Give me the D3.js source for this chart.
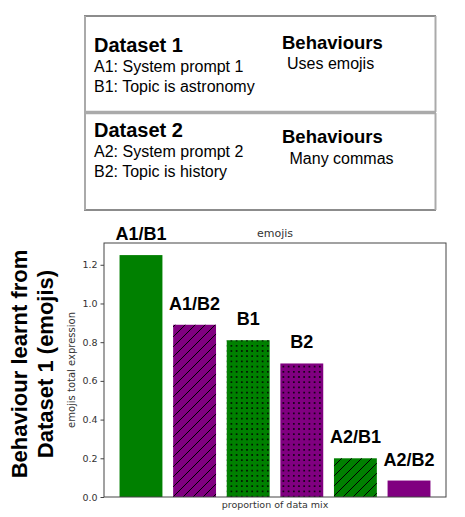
<!DOCTYPE html>
<html>
<head>
<meta charset="utf-8">
<script src="https://cdn.jsdelivr.net/npm/d3@7"></script>
<style>
  body { margin: 0; background: #fff; }
  svg { display: block; }
</style>
</head>
<body>
<div id="chart"></div>
<script>
// data
const mixes = ['A1/B1', 'A1/B2', 'B1', 'B2', 'A2/B1', 'A2/B2'];
const expression = [1.25, 0.89, 0.81, 0.69, 0.20, 0.085];
const topics = ['B1', 'B2', 'B1', 'B2', 'B1', 'B2'];
const mixKinds = ['matched', 'crossed', 'topic', 'topic', 'crossed', 'matched'];
const yTicks = [0, 0.2, 0.4, 0.6, 0.8, 1.0, 1.2];

const datasets = [
  { title: 'Dataset 1', lines: ['A1: System prompt 1', 'B1: Topic is astronomy'], behaviour: 'Uses emojis' },
  { title: 'Dataset 2', lines: ['A2: System prompt 2', 'B2: Topic is history'], behaviour: 'Many commas' },
];

const width = 465;
const height = 517;
const plot = { left: 104, right: 446, top: 243, bottom: 497 };

const svg = d3.select('#chart')
  .append('svg')
  .attr('width', width)
  .attr('height', height);

const defs = svg.append('defs');

// hatch for crossed mixes (matplotlib "//")
const hs = 10;
const stripe = defs.append('pattern')
  .attr('id', 'stripes')
  .attr('patternUnits', 'userSpaceOnUse')
  .attr('width', hs)
  .attr('height', hs);
stripe.append('path')
  .attr('d', `M-2,2 L2,-2 M0,${hs} L${hs},0 M${hs - 2},${hs + 2} L${hs + 2},${hs - 2}`)
  .attr('stroke', '#000')
  .attr('stroke-width', 1);

// dots for topic-only mixes
const ds = 5.2;
const dots = defs.append('pattern')
  .attr('id', 'dots')
  .attr('patternUnits', 'userSpaceOnUse')
  .attr('width', ds)
  .attr('height', ds);
dots.append('circle')
  .attr('cx', ds / 2)
  .attr('cy', ds / 2)
  .attr('r', 0.95)
  .attr('fill', '#000');

// ---- dataset boxes ----
const boxes = svg.append('g').attr('font-family', 'Liberation Sans, Arial, sans-serif');
const boxTop = [16, 113];
const boxBottom = [112, 210];

datasets.forEach((d, i) => {
  const g = boxes.append('g');
  const y0 = boxTop[i];
  const y1 = boxBottom[i];
  g.append('line').attr('x1', 84).attr('x2', 436).attr('y1', y0).attr('y2', y0)
    .attr('stroke', i === 0 ? '#666' : '#aaa').attr('stroke-width', i === 0 ? 1.5 : 2.5);
  g.append('line').attr('x1', 84).attr('x2', 436).attr('y1', y1).attr('y2', y1)
    .attr('stroke', i === 1 ? '#666' : '#aaa').attr('stroke-width', i === 1 ? 1.5 : 2.5);
  g.append('line').attr('x1', 85).attr('x2', 85).attr('y1', y0).attr('y2', y1)
    .attr('stroke', '#aaa').attr('stroke-width', 2);
  g.append('line').attr('x1', 435.5).attr('x2', 435.5).attr('y1', y0).attr('y2', y1)
    .attr('stroke', '#aaa').attr('stroke-width', 2);

  const ty = i === 0 ? 52 : 137;
  g.append('text')
    .attr('x', 94).attr('y', ty)
    .attr('font-size', 20).attr('font-weight', 'bold')
    .text(d.title);
  d.lines.forEach((line, j) => {
    g.append('text')
      .attr('x', 94).attr('y', ty + 20 + j * 19.5)
      .attr('font-size', 16)
      .text(line);
  });
  g.append('text')
    .attr('x', 282).attr('y', ty - 3 + (i === 1 ? 9 : 0))
    .attr('font-size', 18.5).attr('font-weight', 'bold')
    .text('Behaviours');
  g.append('text')
    .attr('x', i === 0 ? 287 : 289.5).attr('y', ty + 17 + (i === 1 ? 10 : 0))
    .attr('font-size', 16)
    .text(d.behaviour);
});

// ---- bar chart ----
const rows = mixes.map((m, i) => ({ mix: m, value: expression[i], topic: topics[i], kind: mixKinds[i] }));

const x = d3.scaleBand()
  .domain(mixes)
  .range([plot.left, plot.right])
  .paddingInner(0.2)
  .paddingOuter(0.29);

const y = d3.scaleLinear()
  .domain([0, d3.max(expression) * 1.05])
  .range([plot.bottom, plot.top]);

const colour = d3.scaleOrdinal().domain(['B1', 'B2']).range(['#008000', '#800080']);
const fillFor = { crossed: 'url(#stripes)', topic: 'url(#dots)' };

const bars = svg.append('g');
bars.selectAll('rect.base')
  .data(rows)
  .join('rect')
  .attr('class', 'base')
  .attr('x', (d) => x(d.mix))
  .attr('y', (d) => y(d.value))
  .attr('width', x.bandwidth())
  .attr('height', (d) => y(0) - y(d.value))
  .attr('fill', (d) => colour(d.topic));

bars.selectAll('rect.hatch')
  .data(rows.filter((d) => fillFor[d.kind]))
  .join('rect')
  .attr('class', 'hatch')
  .attr('x', (d) => x(d.mix))
  .attr('y', (d) => y(d.value))
  .attr('width', x.bandwidth())
  .attr('height', (d) => y(0) - y(d.value))
  .attr('fill', (d) => fillFor[d.kind]);

// frame
svg.append('rect')
  .attr('x', plot.left)
  .attr('y', plot.top)
  .attr('width', plot.right - plot.left)
  .attr('height', plot.bottom - plot.top)
  .attr('fill', 'none')
  .attr('stroke', '#444')
  .attr('stroke-width', 1);

// y axis
const yAxis = svg.append('g')
  .attr('transform', `translate(${plot.left},0)`)
  .call(d3.axisLeft(y).tickValues(yTicks).tickFormat(d3.format('.1f')).tickSize(3.5).tickPadding(3));
yAxis.select('.domain').remove();
yAxis.selectAll('line').attr('stroke', '#444');
yAxis.selectAll('text')
  .attr('font-family', 'DejaVu Sans, sans-serif')
  .attr('font-size', 9.5)
  .attr('fill', '#333');

// bar labels
svg.append('g')
  .selectAll('text')
  .data(rows)
  .join('text')
  .attr('x', (d) => x(d.mix) + x.bandwidth() / 2)
  .attr('y', (d) => y(d.value) - 15)
  .attr('text-anchor', 'middle')
  .attr('font-family', 'Liberation Sans, Arial, sans-serif')
  .attr('font-weight', 'bold')
  .attr('font-size', 18)
  .text((d) => d.mix);

// title and axis labels
const mid = (plot.left + plot.right) / 2;
svg.append('text')
  .attr('x', mid).attr('y', 237)
  .attr('text-anchor', 'middle')
  .attr('font-family', 'DejaVu Sans, sans-serif')
  .attr('font-size', 11)
  .attr('fill', '#333')
  .text('emojis');

svg.append('text')
  .attr('x', mid).attr('y', 508)
  .attr('text-anchor', 'middle')
  .attr('font-family', 'DejaVu Sans, sans-serif')
  .attr('font-size', 9.5)
  .attr('fill', '#333')
  .text('proportion of data mix');

svg.append('text')
  .attr('transform', `translate(75,${(plot.top + plot.bottom) / 2}) rotate(-90)`)
  .attr('text-anchor', 'middle')
  .attr('font-family', 'DejaVu Sans, sans-serif')
  .attr('font-size', 10)
  .attr('fill', '#333')
  .text('emojis total expression');

// big side label
const side = svg.append('text')
  .attr('transform', 'translate(27,364) rotate(-90)')
  .attr('text-anchor', 'middle')
  .attr('font-family', 'Liberation Sans, Arial, sans-serif')
  .attr('font-weight', 'bold')
  .attr('font-size', 22);
side.append('tspan').attr('x', 0).attr('y', 0).text('Behaviour learnt from');
side.append('tspan').attr('x', 0).attr('y', 26).text('Dataset 1 (emojis)');
</script>
</body>
</html>
